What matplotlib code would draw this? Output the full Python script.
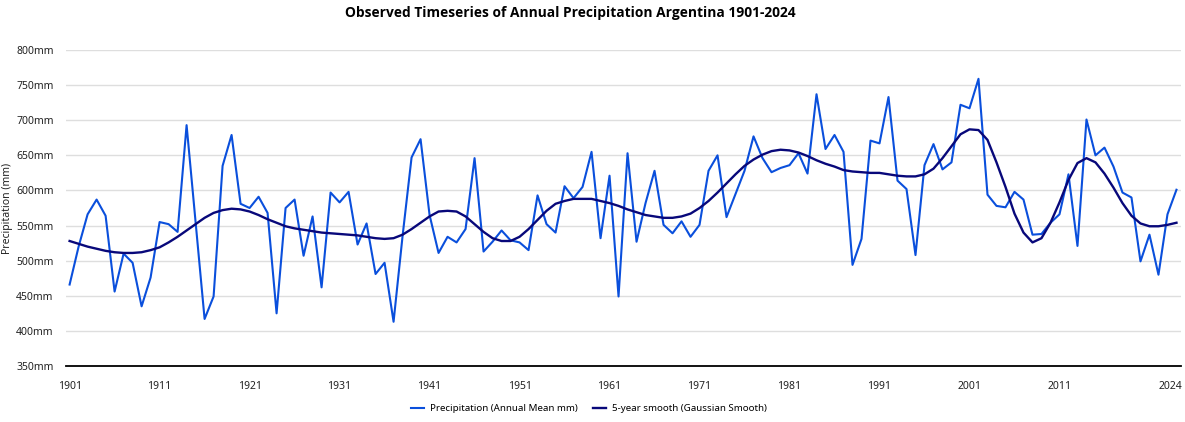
import matplotlib
matplotlib.use('Agg')
import matplotlib.pyplot as plt
import matplotlib.transforms as mtransforms
from matplotlib.ticker import FuncFormatter

# ---- data ----
years = list(range(1901, 2025))

precip = [
    466, 520, 566, 587, 564, 456, 510, 497, 435, 476,   # 1901-1910
    555, 552, 541, 693, 555, 417, 449, 635, 679, 581,   # 1911-1920
    575, 591, 568, 425, 575, 587, 507, 563, 462, 597,   # 1921-1930
    583, 598, 523, 553, 481, 497, 413, 535, 647, 673,   # 1931-1940
    565, 511, 534, 526, 545, 646, 513, 527, 543, 529,   # 1941-1950
    526, 515, 593, 552, 540, 606, 589, 605, 655, 532,   # 1951-1960
    621, 449, 653, 527, 582, 628, 551, 539, 556, 534,   # 1961-1970
    551, 628, 650, 562, 595, 628, 677, 646, 626, 632,   # 1971-1980
    636, 653, 624, 737, 659, 679, 655, 494, 531, 671,   # 1981-1990
    667, 733, 614, 602, 508, 636, 666, 630, 640, 722,   # 1991-2000
    717, 759, 594, 578, 576, 598, 587, 537, 538, 554,   # 2001-2010
    566, 623, 521, 701, 650, 661, 634, 597, 590, 499,   # 2011-2020
    537, 480, 566, 601,                                 # 2021-2024
]

smooth = [
    528, 524, 520, 517, 514, 512, 511, 511, 512, 515,
    519, 526, 534, 543, 552, 561, 568, 572, 574, 573,
    570, 565, 559, 554, 549, 546, 544, 542, 540, 539,
    538, 537, 536, 534, 532, 531, 532, 537, 545, 554,
    563, 570, 571, 570, 563, 552, 541, 532, 528, 528,
    534, 545, 558, 571, 581, 585, 588, 588, 588, 585,
    582, 578, 573, 569, 565, 563, 561, 561, 563, 567,
    575, 585, 597, 610, 623, 635, 644, 651, 656, 658,
    657, 654, 649, 643, 638, 634, 629, 627, 626, 625,
    625, 623, 621, 620, 620, 623, 631, 646, 663, 680,
    687, 686, 672, 640, 605, 567, 540, 526, 532, 554,
    583, 615, 639, 646, 640, 624, 604, 582, 564, 553,
    549, 549, 551, 554,
]

tick_years = [1901, 1911, 1921, 1931, 1941, 1951, 1961, 1971, 1981, 1991, 2001, 2011, 2024]
y_ticks = [350, 400, 450, 500, 550, 600, 650, 700, 750, 800]

plt.rcParams['font.family'] = ['Noto Sans', 'DejaVu Sans']

fig = plt.figure(figsize=(11.85, 4.22), dpi=100)
ax = fig.add_axes([0.0557, 0.1327, 0.9409, 0.7488])

ax.plot(years, precip, color='#0a4fdc', lw=1.5, label='Precipitation (Annual Mean mm)', zorder=2)
ax.plot(years, smooth, color='#08087a', lw=1.7, label='5-year smooth (Gaussian Smooth)', zorder=3)

ax.set_xlim(1900.6, 2024.5)
ax.set_ylim(350, 800)
ax.set_xticks(tick_years)
ax.set_yticks(y_ticks)
ax.yaxis.set_major_formatter(FuncFormatter(lambda v, p: f"{int(v)}mm"))

ax.grid(axis='y', color='#dedede', lw=1)
ax.set_axisbelow(True)
for s in ['top', 'right', 'left']:
    ax.spines[s].set_visible(False)
ax.spines['bottom'].set_color('black')
ax.spines['bottom'].set_linewidth(1.3)
ax.spines['bottom'].set_zorder(4)

ax.tick_params(axis='both', length=0, labelsize=7.5, colors='#222222')
ax.tick_params(axis='x', pad=11)
ax.tick_params(axis='y', pad=9)

# nudge the last year label left so it stays inside the figure
last = ax.get_xticklabels()[-1]
last.set_transform(last.get_transform() + mtransforms.ScaledTranslation(-4 / 72, 0, fig.dpi_scale_trans))

ax.set_ylabel('Precipitation (mm)', fontsize=7.5, color='#222222')
ax.yaxis.set_label_coords(-0.0475, 0.5)

fig.suptitle('Observed Timeseries of Annual Precipitation Argentina 1901-2024',
             fontsize=9.9, fontweight='bold', family=['Open Sans', 'DejaVu Sans'],
             y=0.985, x=0.481)

fig.legend(loc='lower center', bbox_to_anchor=(0.497, 0.0), ncol=2, frameon=False,
           fontsize=7, handlelength=1.3, columnspacing=1.6, handletextpad=0.6)

fig.savefig('out.png', dpi=100)
